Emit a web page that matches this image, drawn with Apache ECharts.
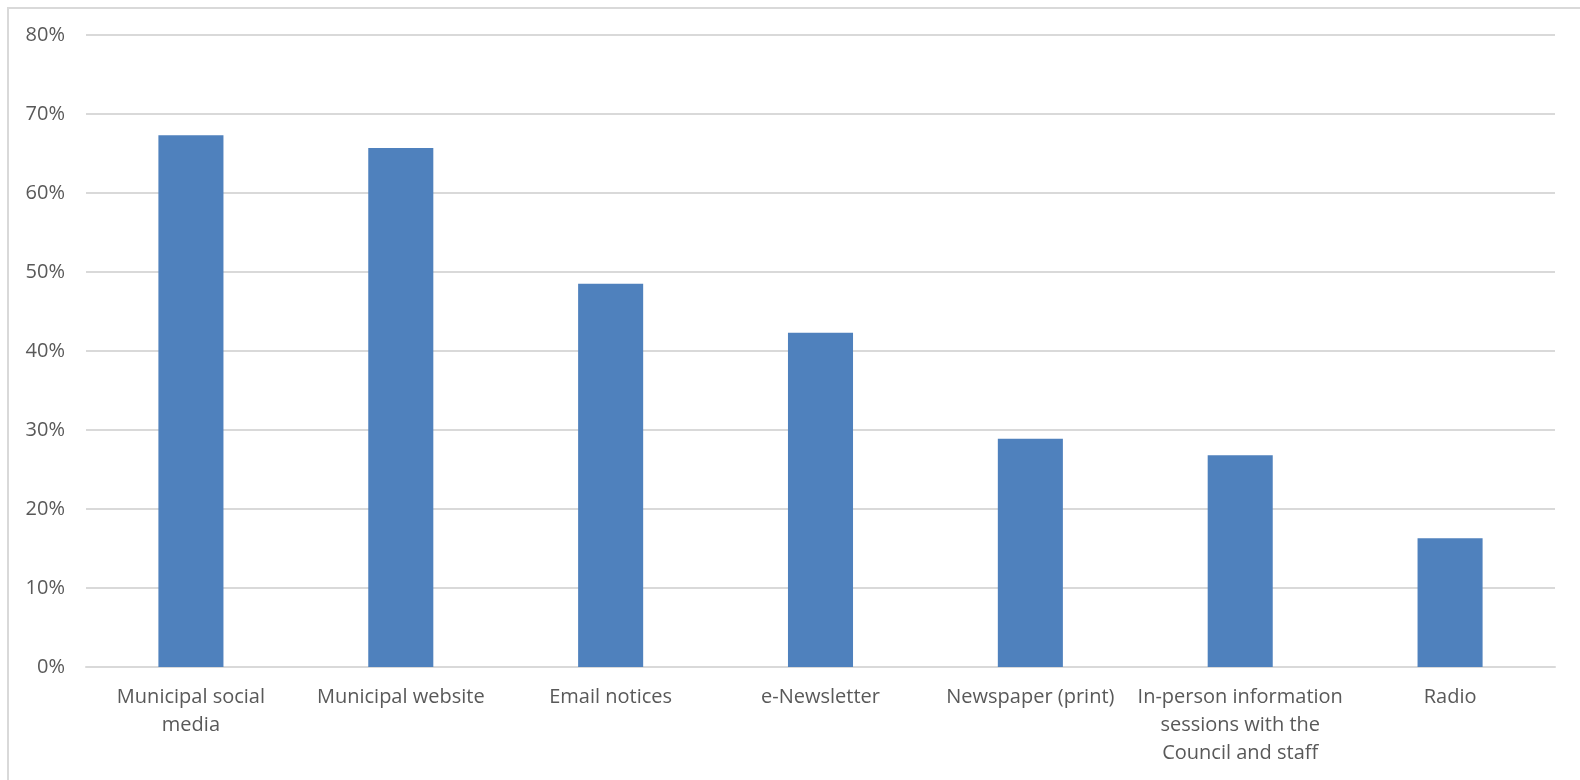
<!DOCTYPE html>
<html>
<head>
<meta charset="utf-8">
<script src="https://cdn.jsdelivr.net/npm/echarts@6/dist/echarts.min.js"></script>
<style>
html,body{margin:0;padding:0;background:#fff;}
#frame{position:absolute;left:7px;top:7px;width:1573px;height:773px;border-top:2px solid #d9d9d9;border-left:2px solid #d9d9d9;box-sizing:border-box;}
#chart{position:absolute;left:0;top:0;width:1580px;height:780px;}
</style>
</head>
<body>
<div id="frame"></div>
<div id="chart"></div>
<script>
const categories = ["Municipal social\nmedia","Municipal website","Email notices","e-Newsletter","Newspaper (print)","In-person information\nsessions with the\nCouncil and staff","Radio"];
const values = [67.3, 65.7, 48.5, 42.3, 28.9, 26.8, 16.3];
const yTicks = [0,10,20,30,40,50,60,70,80];

const chart = echarts.init(document.getElementById('chart'), null, {renderer:'canvas'});
chart.setOption({
  animation:false,
  backgroundColor:'transparent',
  grid:{left:86, right:25, top:35, bottom:113, containLabel:false},
  xAxis:{
    type:'category', data:categories,
    axisLine:{lineStyle:{color:'#d9d9d9', width:2}},
    axisTick:{show:false},
    axisLabel:{color:'#595959', fontFamily:'Open Sans', fontSize:20, margin:16, lineHeight:28, interval:0}
  },
  yAxis:{
    type:'value', min:0, max:80, interval:10,
    axisLine:{show:false}, axisTick:{show:false},
    axisLabel:{color:'#595959', fontFamily:'Open Sans', fontSize:20, margin:21, formatter: v => v + '%'},
    splitLine:{lineStyle:{color:'#d9d9d9', width:2}}
  },
  series:[{type:'bar', data:values, barWidth:'31%', itemStyle:{color:'#4f81bd'}}]
});
</script>
</body>
</html>
